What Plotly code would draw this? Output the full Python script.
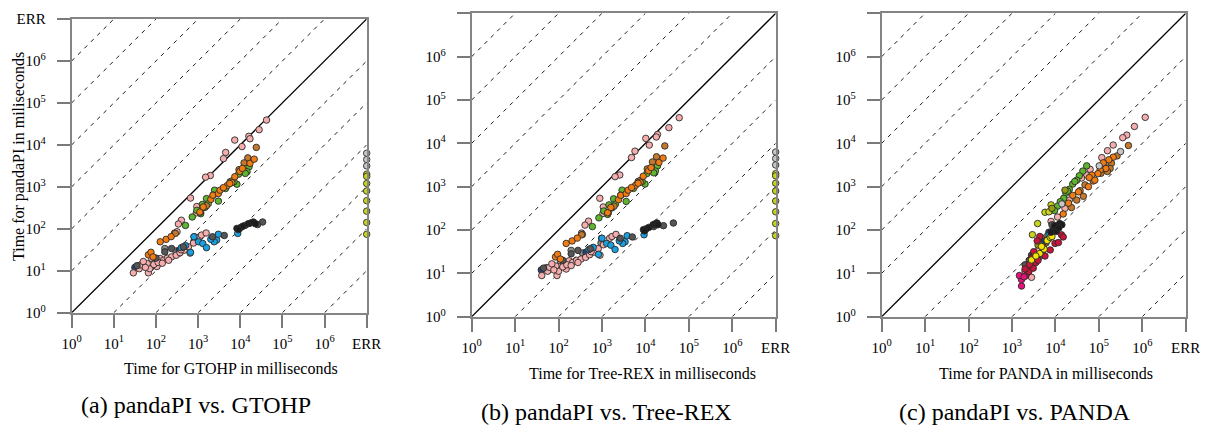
import plotly.graph_objects as go

PAGE_W, PAGE_H = 1208, 429
PAD = 8  # the browser page puts the figure 8px from the top-left corner
W, H = PAGE_W - PAD, PAGE_H - PAD
FONT = "Liberation Serif"
ERR = 1e7  # axis position used for runs that failed

tick_vals = [1, 10, 100, 1e3, 1e4, 1e5, 1e6, ERR]
tick_text = ["10<sup>0</sup>", "10<sup>1</sup>", "10<sup>2</sup>", "10<sup>3</sup>",
             "10<sup>4</sup>", "10<sup>5</sup>", "10<sup>6</sup>", "ERR"]
ratio_offsets = [1e-6, 1e-5, 1e-4, 1e-3, 1e-2, 1e-1, 1e1, 1e2, 1e3, 1e4, 1e5, 1e6]

# ---------------- pandaPI times shared by panels (a) and (b), ms ----------------
pandapi_pink = [39000, 23000, 16000, 14000, 9100, 13000, 6600, 4700, 1860, 1700, 540, 340, 240, 160, 130, 85, 79,
                8.9, 11.2, 13.8, 8.9, 11.2, 14.8, 19.5, 16.2, 12.6, 19.5, 17.8, 20, 21.4, 23.4, 26.9, 30.9, 37.2,
                26.3, 45.7, 64.6, 70.8, 79.4, 16.6, 14.1, 15.8, 17.8, 12, 15.1, 31.6]
pandapi_orange = [24, 27.5, 21.4, 49, 56, 65, 251, 331, 501, 631, 692, 832, 1070, 1260, 1740, 2340, 2750, 3630,
                  4570, 955, 1200]
pandapi_brown = [8710, 4900, 3720, 2570, 1380, 251, 77.6, 355]
pandapi_green = [3020, 2290, 2090, 2000, 1150, 1320, 1320, 912, 832, 631, 457, 525, 398, 380, 324, 275, 229, 191, 120]
pandapi_blue = [64.6, 49, 44.7, 35.5, 27.5, 53.7, 49, 74.1, 77.6, 39.8, 35.5, 56.2]
pandapi_black = [102, 107, 115, 132, 138, 145, 132, 95.5]
pandapi_dgrey = [64.6, 69.2, 145, 126, 37.2, 33.9, 28.2, 13.2, 20, 120]
pandapi_mgrey = [33.9, 29.5, 13.5, 26.3, 50.1]
pandapi_navy = [64.6, 30.9, 12.6, 35.5, 12]
pandapi_err_lgrey = [6310, 4470, 3160]
pandapi_err_ygreen = [2000, 1780, 1200, 794, 468, 263, 141, 74]

# ---------------- GTOHP times, panel (a), ms ----------------
gtohp_pink = [42000, 28000, 16000, 17000, 11000, 7400, 4500, 4000, 1950, 1500, 660, 930, 910, 400, 340, 316, 275,
              29, 40, 44, 66, 71, 62, 79, 95, 105, 126, 151, 186, 234, 302, 372, 468, 589, 646, 776, 1100, 1200,
              1550, 50, 89, 112, 200, 56, 141, 398]
gtohp_orange = [66, 76, 85, 126, 174, 229, 1100, 1320, 2000, 2240, 3020, 3310, 4900, 6310, 7410, 9770, 11200,
                17000, 21400, 3980, 5620]
gtohp_brown = [24000, 15100, 12300, 9330, 6310, 1150, 288, 1580]
gtohp_green = [16200, 14500, 13200, 9120, 8320, 7080, 5750, 4470, 2450, 2290, 3020, 1580, 1740, 1260, 1450, 933,
               1150, 724, 501]
gtohp_blue = [794, 1020, 1290, 1580, 661, 2750, 2400, 3020, 8710, 501, 398, 2000]
gtohp_black = [8320, 10200, 11500, 15500, 17800, 20400, 22900, 9120]
gtohp_dgrey = [2190, 4170, 33900, 25700, 447, 234, 162, 35.5, 100, 12900]
gtohp_mgrey = [162, 295, 41.7, 355, 794]
gtohp_navy = [813, 355, 79.4, 525, 31.6]

# ---------------- Tree-REX times, panel (b), ms ----------------
treerex_pink = [60000, 34700, 19000, 17800, 12300, 10200, 5750, 4790, 2570, 2000, 891, 1070, 1050, 490, 407, 339,
                355, 41, 56, 62, 92, 100, 87, 110, 130, 150, 175, 210, 260, 330, 420, 520, 650, 820, 900, 1080,
                1500, 1700, 2100, 70, 125, 155, 280, 78, 195, 560]
treerex_orange = [85, 95, 110, 150, 205, 270, 1350, 1600, 2400, 2700, 3600, 4000, 5900, 7600, 8900, 11800, 13500,
                  20500, 25500, 4800, 6800]
treerex_brown = [28000, 18000, 14500, 11000, 7500, 1400, 340, 1900]
treerex_green = [19000, 17000, 15500, 10800, 9800, 8400, 6800, 5300, 2900, 2700, 3600, 1850, 2050, 1450, 1700,
                 1100, 1350, 850, 600]
treerex_blue = [1000, 1280, 1600, 2000, 830, 3400, 3000, 3800, 9300, 630, 500, 2500]
treerex_black = [9000, 10500, 12000, 15000, 16500, 18500, 19500, 9600]
treerex_dgrey = [2630, 5000, 44000, 26000, 540, 280, 195, 45, 125, 15500]
treerex_mgrey = [195, 355, 52, 430, 950]
treerex_navy = [980, 430, 95, 630, 40]

# ---------------- panel (c): PANDA (x) vs pandaPI (y), ms ----------------
c_pink_x = [1.17e6, 6.6e5, 4.4e5, 3.55e5, 2.14e5, 1.58e5, 1.17e5, 5.25e4, 6.3e4, 3.98e4, 2.09e4, 1.66e4, 1.12e4,
            7940, 8910, 7590, 6310, 2820, 2190, 2510, 3550, 2000, 4170]
c_pink_y = [39800, 24500, 15500, 13500, 9120, 6760, 4680, 1860, 2510, 1580, 490, 316, 200, 158, 112, 83, 71, 8.1,
            14.5, 17.8, 25.1, 11.2, 35.5]
c_orange_x = [2.14e5, 1.7e5, 1.45e5, 1.07e5, 9.5e4, 6.9e4, 6.0e4, 5.75e4, 3.4e4, 2.5e4, 2.0e4, 1.51e4, 8.1e4, 1.26e5]
c_orange_y = [4790, 4170, 2630, 2400, 2000, 1860, 1620, 1000, 760, 630, 417, 234, 1410, 3550]
c_brown_x = [4.8e5, 2.63e5, 1.95e5, 1.82e5, 1.12e5, 7.4e4, 4.8e4, 3.7e4, 4.4e4, 3.1e4, 2.34e4, 1.58e5, 1.32e5]
c_brown_y = [8910, 5130, 3470, 2630, 2040, 1350, 1100, 810, 600, 490, 330, 2240, 3160]
c_green_x = [5.25e4, 4.27e4, 3.55e4, 3.1e4, 2.5e4, 2.09e4, 1.74e4, 1.55e4, 1.29e4, 1.12e4, 9550, 2.8e4, 1.9e4]
c_green_y = [3020, 2290, 1780, 1410, 1150, 870, 710, 540, 450, 355, 280, 1320, 790]
c_lgrey_x = [3.16e5, 1.02e5, 1.41e4]
c_lgrey_y = [6460, 3020, 400]
c_ygreen_x = [5750, 3890, 2950, 7080, 7940]
c_ygreen_y = [257, 141, 78, 263, 380]
c_olive_x = [8320, 1.66e4, 5010, 6030, 3980]
c_olive_y = [316, 832, 63, 50, 45]
c_yellow_x = [2820, 4370, 5500, 6460, 7590, 3550, 4790, 8320]
c_yellow_y = [20.4, 28.8, 36.3, 57.5, 67.6, 25.1, 41.7, 70.8]
c_crimson_x = [2090, 2450, 3090, 5750, 7590, 9770, 1.17e4, 5130, 4370, 1.38e4, 1.51e4, 2510, 2000, 3550, 3980,
               3160, 2820, 3800]
c_crimson_y = [8.9, 11, 13.2, 25.1, 34.7, 49, 51.3, 41.7, 70.8, 77.6, 69.2, 15.8, 12.6, 17.8, 20, 31.6, 22.4, 56.2]
c_magenta_x = [1660, 1660, 1480, 1900]
c_magenta_y = [5.1, 7.2, 8.9, 8.3]
c_teal_x = [4270, 7080, 5010]
c_teal_y = [24.5, 63, 31.6]
c_black_x = [8910, 10000, 11200, 12600, 14100, 10500, 9550, 12000, 7940]
c_black_y = [100, 112, 126, 141, 132, 93, 126, 112, 89]
c_dgrey_x = [2510, 2820, 2000, 8320]
c_dgrey_y = [20, 26.3, 15.8, 132]
c_navy_x = [5620, 7080, 3160]
c_navy_y = [56, 89, 28.2]
c_blue_x = [7080, 6310]
c_blue_y = [76, 56]

# ---------------- styling ----------------
COL = {
    "pink": "#f5adad", "orange": "#f27c14", "brown": "#c4782c", "green": "#60b52f", "blue": "#1aa0e0",
    "black": "#1c1c1c", "dgrey": "#555555", "mgrey": "#8c8c8c", "lgrey": "#c6c6c6", "ygreen": "#c6d41c",
    "navy": "#26417a", "olive": "#9a9a12", "yellow": "#f5e400", "crimson": "#c6163c", "magenta": "#e6127a",
    "teal": "#14787a",
}


def fx(px):  # page pixel -> paper x
    return (px - PAD) / W


def fy(py):  # page pixel -> paper y
    return (PAGE_H - py) / H


fig = go.Figure()

domains_x = [[fx(71.7), fx(366.7)], [fx(471.7), fx(775.7)], [fx(881.7), fx(1185.7)]]
domains_y = [[fy(312.7), fy(19)], [fy(316.7), fy(13.3)], [fy(316.7), fy(13.3)]]


def ax_names(i):
    return ("x" if i == 0 else f"x{i + 1}"), ("y" if i == 0 else f"y{i + 1}")


# reference lines: diagonal and dashed multiples
for i in range(3):
    xa, ya = ax_names(i)
    fig.add_trace(go.Scatter(x=[1, ERR], y=[1, ERR], mode="lines", xaxis=xa, yaxis=ya,
                             line=dict(color="black", width=1.3), hoverinfo="skip", showlegend=False))
    for r in ratio_offsets:
        if r > 1:
            xs = [1, ERR / r]
        else:
            xs = [1 / r, ERR]
        fig.add_trace(go.Scatter(x=xs, y=[v * r for v in xs], mode="lines", xaxis=xa, yaxis=ya,
                                 line=dict(color="black", width=0.9, dash="4px,5px"),
                                 hoverinfo="skip", showlegend=False))


def add_pts(i, xs, ys, color):
    xa, ya = ax_names(i)
    fig.add_trace(go.Scatter(x=xs, y=ys, mode="markers", xaxis=xa, yaxis=ya, cliponaxis=False,
                             marker=dict(size=6.5, color=COL[color], line=dict(color="#2a2a2a", width=0.9)),
                             hoverinfo="skip", showlegend=False))


series_ab = [
    ("mgrey", gtohp_mgrey, treerex_mgrey, pandapi_mgrey),
    ("navy", gtohp_navy, treerex_navy, pandapi_navy),
    ("pink", gtohp_pink, treerex_pink, pandapi_pink),
    ("blue", gtohp_blue, treerex_blue, pandapi_blue),
    ("dgrey", gtohp_dgrey, treerex_dgrey, pandapi_dgrey),
    ("black", gtohp_black, treerex_black, pandapi_black),
    ("green", gtohp_green, treerex_green, pandapi_green),
    ("brown", gtohp_brown, treerex_brown, pandapi_brown),
    ("orange", gtohp_orange, treerex_orange, pandapi_orange),
]
for color, xa_vals, xb_vals, y_vals in series_ab:
    add_pts(0, xa_vals, y_vals, color)
    add_pts(1, xb_vals, y_vals, color)
for i in (0, 1):
    add_pts(i, [ERR] * len(pandapi_err_lgrey), pandapi_err_lgrey, "lgrey")
    add_pts(i, [ERR] * len(pandapi_err_ygreen), pandapi_err_ygreen, "ygreen")

series_c = [
    ("pink", c_pink_x, c_pink_y), ("brown", c_brown_x, c_brown_y), ("orange", c_orange_x, c_orange_y),
    ("green", c_green_x, c_green_y), ("lgrey", c_lgrey_x, c_lgrey_y), ("ygreen", c_ygreen_x, c_ygreen_y),
    ("olive", c_olive_x, c_olive_y), ("dgrey", c_dgrey_x, c_dgrey_y), ("navy", c_navy_x, c_navy_y),
    ("blue", c_blue_x, c_blue_y), ("teal", c_teal_x, c_teal_y), ("crimson", c_crimson_x, c_crimson_y),
    ("yellow", c_yellow_x, c_yellow_y), ("magenta", c_magenta_x, c_magenta_y), ("black", c_black_x, c_black_y),
]
for color, xs, ys in series_c:
    add_pts(2, xs, ys, color)

tickfont = dict(family=FONT, size=15, color="black")
layout_axes = {}
for i in range(3):
    sfx = "" if i == 0 else str(i + 1)
    common = dict(type="log", range=[0, 7], tickvals=tick_vals, ticktext=tick_text, ticks="outside",
                  tickcolor="#7a7a7a", tickwidth=1.8, ticklen=13, showline=True, linecolor="#858585",
                  linewidth=2, mirror=True, showgrid=False, zeroline=False, tickfont=tickfont, automargin=False)
    layout_axes["xaxis" + sfx] = dict(common, domain=domains_x[i], anchor="y" + sfx, ticklabelstandoff=3)
    layout_axes["yaxis" + sfx] = dict(common, domain=domains_y[i], anchor="x" + sfx, ticklabelstandoff=8)

annotations = []


def ann(text, px, py, size, angle=0):
    annotations.append(dict(text=text, x=fx(px), y=fy(py), xref="paper", yref="paper", showarrow=False,
                            xanchor="center", yanchor="middle", textangle=angle,
                            font=dict(family=FONT, size=size, color="black")))


ann("Time for pandaPI in miliseconds", 19, 157, 16, -90)
ann("Time for GTOHP in milliseconds", 230.7, 368, 16)
ann("Time for Tree-REX in milliseconds", 642, 373, 16)
ann("Time for PANDA in milliseconds", 1045.5, 373, 16)
ann("(a) pandaPI vs. GTOHP", 196, 405, 24)
ann("(b) pandaPI vs. Tree-REX", 606, 412, 24)
ann("(c) pandaPI vs. PANDA", 1015, 412, 24)

fig.update_layout(width=W, height=H, margin=dict(l=0, r=0, t=0, b=0, autoexpand=False), paper_bgcolor="white",
                  plot_bgcolor="white", annotations=annotations, **layout_axes)

fig.write_html("out.html")
